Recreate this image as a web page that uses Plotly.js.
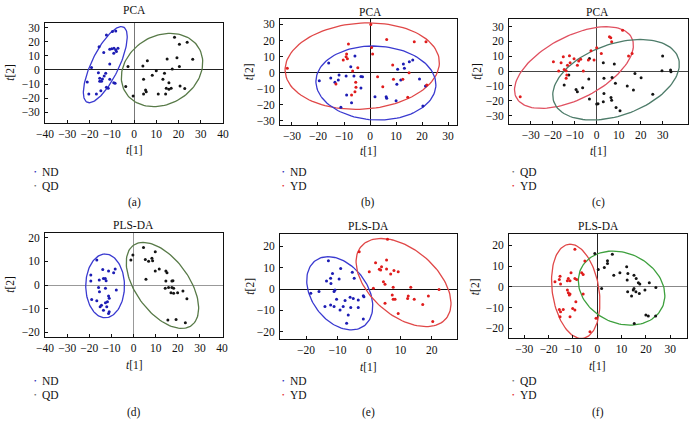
<!DOCTYPE html>
<html><head><meta charset="utf-8">
<script src="https://cdn.plot.ly/plotly-3.0.1.min.js"></script>
<style>html,body{margin:0;padding:0;background:#fff}</style>
</head><body><div id="chart" style="width:693px;height:442px"></div>
<script>
// ---------- DATA ----------
const aND_x=[-8.2,-9.7,-12.4,-10,-9,-8.2,-7.2,-7.9,-9.1,-10.9,-13.6,-15.7,-10.9,-19.1,-16,-12.7,-13.4,-15.4,-14.6,-15.4,-14.2,-10.9,-21,-9.1,-12.4,-11.6,-14.9,-20.3,-16.9,-8.5];
const aND_y=[27.7,27.2,24.8,15.1,15.4,14.2,15.4,13,11.8,14.7,12.3,16.5,4.3,1.7,-1.9,-2.4,-4.3,-5.9,-8,-8,-6.4,-6.6,-8.5,-9,-12.3,-13,-14.7,-17,-17,-9.5];
const aQD_x=[18.2,20.4,23.9,19.3,14.9,26.4,6,4,-2.7,20.4,17.2,10,13.7,8.2,4.3,13,15.7,-3.7,20.7,14.5,16.7,15.7,22.8,5.2,5.5,4.3,10.9,14.2,-0.4];
const aQD_y=[23.2,18.2,19.6,8.7,7.8,7.6,6.6,2.8,2.4,2.4,0.7,-0.5,-2.4,-3.8,-6.6,-6.6,-9,-11.8,-11.3,-13,-13,-13.7,-13.2,-14.2,-15.4,-17,-17,-17,-18.4];

const bYD_x=[0.3,-8.3,6.4,17,21.5,0.6,1,-9,-9.2,-8.7,-10.3,8.7,-4.7,-6.7,15,-31.8,2.9,-5.5,-5.4,4.9,12.6,9,-13.1,-7.1,-5.8,14.5,21.8];
const bYD_y=[30,17.8,20.7,19.3,19.3,15.7,11.6,11.6,9.9,8.7,7.9,4.8,3.1,1,0,2.7,-2.5,-6,-9.1,-8.7,-4.1,-4.1,-7,-13.9,-11.8,-15.3,-7.7];
const bND_x=[-15.9,-5.8,-7.4,-11.9,-9.2,-6.2,-3.5,-2.9,-15.1,-12.2,-19.5,-13.5,-3.5,-9,-11.2,-7.1,1.9,6.2,6.4,10,10.3,10.6,12.8,13.2,15.1,16.4,11.8,19,20.3,21.3];
const bND_y=[6,10.4,3.7,-1.4,-2.1,-2.1,-2.3,-2.5,-3.3,-4.6,-5,-6,-9.5,-13.9,-21.5,-18.6,-14.9,-14.9,-15.9,-17.4,-7.2,2.1,5.4,2.7,6.8,7.9,-4.6,-3.9,-20.7,-8.3];

const cYD_x=[11.8,5.8,6.4,6.8,0,-2.6,2.1,16.1,14.5,-12.4,-15.2,-10.3,-7.3,-8.2,-3.8,-1.2,-19.7,-16.2,-13.3,-8.8,-6.1,-17.3,-13.9,-13.6,-13.9,-14.8,-34.8,-12.1];
const cYD_y=[27.6,23.1,22.5,19.8,15.7,13.7,11.9,11.9,10.1,10.3,9.7,8.3,7.9,6.7,7.4,7.4,6.3,5.6,4,4,0,0,0.2,-2.7,-4.9,1.1,-17.3,5.6];
const cQD_x=[30,29.7,33.6,33.8,3,8,-3.3,-12.7,-14.8,-3.6,3.3,7,8.5,17.4,20.2,13.9,16.7,25.5,-9.4,-8.8,-6.4,3.3,-3.3,6.5,6.8,3,0,0.6,8.8,10.6];
const cQD_y=[10.1,0.2,0.7,-0.4,5.6,4.7,8.5,-2.7,-9.4,-5.4,-4.9,-4.3,-8.3,-1.6,-4.5,-10.1,-12.8,-15.7,-12.4,-13.9,-11.2,-15.1,-18.9,-17.8,-19.6,-20.7,-22.2,-22,-24.5,-26.7];

const dND_x=[-16.6,-13.9,-11.3,-8.3,-9,-19.3,-19.3,-15.5,-13.6,-12.8,-12.4,-15.8,-12.7,-7.8,-15.4,-11.3,-11,-11.8,-12.7,-18.9,-16.6,-14.5,-15.1,-12.1,-13.6,-11.3,-11];
const dND_y=[10.6,6.6,5.9,6.8,5.2,4.2,1.7,2.1,2.8,2.8,1.8,-1,-1.4,-2.1,-2.8,-4.6,-5.6,-7,-7.5,-6.1,-6.6,-8.5,-9.2,-9.2,-10.6,-12,-11.3];
const dQD_x=[4.5,9.8,-0.3,-1.2,5.3,6.8,8.3,8.6,11.6,9.8,14.6,15.1,5.6,14.6,17.3,17.8,14.3,15.8,17.3,16.9,18.1,19.9,22.3,24.1,15.5,19.2,23.4,18.1];
const dQD_y=[15.9,14.1,12.7,10.6,10.8,10.1,11.3,10.3,6.8,5.9,5.9,5.2,2.5,1.7,1.7,1.8,-1.4,-1,-1,-3.2,-3.5,-3.2,-2.5,-5.8,-14.8,-14.5,-15.9,-1.4];

const eND_x=[-12.9,-9,-11.6,-12.2,-13.5,-12.1,-9.5,-5.3,-4.7,-10.8,-11.1,-15.9,-18.5,-6,-5,-3.4,-1.8,-1.6,-10.3,-7.6,-12.2,-11.1,-14,-8.2,-5.8,-3.4,-9.2,-6.6,-1.8,-7.1];
const eND_y=[13.2,9.6,7.3,5,3.7,2.6,4.7,7.8,5,-0.5,-1.2,-1.2,-2,-3.9,-4.4,-5.1,-3.1,-3.6,-4.8,-5.4,-7.5,-8.2,-8.2,-8.2,-8.6,-8.6,-9.8,-12.1,-14,-16];
const eYD_x=[5.9,-3.1,2.1,5.6,4,3.7,3.3,5.6,0.1,7.95,9.3,6.9,4.6,5.1,1.4,7.7,13.3,22.3,7.4,12.5,8.3,7.7,12.3,14.4,18.9,17.1,5.1,9.3,20.3];
const eYD_y=[23.2,17.4,12.3,13.5,10.4,8.9,9.2,9.3,8.1,8.6,8.1,7,3.4,2.2,0.3,0.8,0.8,-0.2,-2.8,-3.3,-4.8,-4.8,-4.4,-4.8,-3.3,-7.2,-6.7,-11.4,-15.2];

const fYD_x=[-9.2,-5.1,-10.8,-6.4,-5.8,-15.3,-15.6,-11.9,-9.2,-8.5,-17.4,-12.3,-11.2,-15.1,-12.3,-11.9,-11.2,-11.5,-5.8,-8.8,-15.6,-14,-15.1,-10.1,-9.2,-11.2,-0.5,-3,-15.3];
const fYD_y=[18.1,12.4,6.7,6.7,5.9,5.1,3.5,4,4,3.5,2.4,2.9,2.9,1.3,-1.6,-2.9,-3.5,-4,-3.5,-7.2,-10.9,-10.9,-12,-10.4,-11.2,-14.4,-15.2,-21.7,-14.4];
const fQD_x=[-1,6.2,4.2,4.2,12.1,2.9,0.4,9.3,6.8,12.6,15.1,16,12.3,16.9,17.5,21.4,24.1,15.1,12.5,14.8,15.9,19.6,17.3,14.1,1.8,20,21,24,15.2];
const fQD_y=[16,15.6,12.5,11.2,9.6,9.3,8.3,6.7,5.6,6.4,5.6,4,3.2,1.9,1.3,1.9,-0.3,-0.8,-2.4,-1.6,-2.4,-1.6,-3.2,-4.5,-0.8,-13.6,-14.1,-14.1,-17.7];

// confidence ellipses: [centre x, centre y, x-offset of top point, half height, half x-extent]
const aEllND=[-12.9,3.75,7.2,27,9.85],  aEllQD=[12.6,0,3.7,26,18.3];
const bEllYD=[-3,4.1,2.5,26.9,29.65],   bEllND=[2.25,-6.4,-1,23,23.05];
const cEllYD=[-10.35,2.35,14.8,27.55,27.05], cEllQD=[8.8,-5.85,11,27.15,28.8];
const dEllND=[-12.85,-0.35,0,13.45,8.75], dEllQD=[13.05,-0.15,-8.7,18.15,16.35];
const eEllND=[-9.3,-2,-3.7,17.1,10.5],  eEllYD=[11,3,-7.15,20.6,15.1];
const fEllYD=[-8.85,-2.2,-2.3,22.7,9.95], fEllQD=[10,-0.65,-3.5,17.85,17.8];

const titles=["PCA","PCA","PCA","PLS-DA","PLS-DA","PLS-DA"];
const panelLabels=["(a)","(b)","(c)","(d)","(e)","(f)"];
const ticksA=[-40,-30,-20,-10,0,10,20,30,40];
const ticks30=[-30,-20,-10,0,10,20,30];
const ticks20=[-20,-10,0,10,20];

// ---------- LAYOUT CONFIG ----------
const W=693,H=442;
const C={ND:"#1c1cb4",QD:"#141414",YD:"#e01c1c"};
const P=[
 {box:[45,223,22.7,122.7],xr:[-40,40],yr:[-37.4,33.5],xt:ticksA,yt:ticks30,
  g:[["ND",aND_x,aND_y],["QD",aQD_x,aQD_y]],el:[[aEllND,"#3a3ad0"],[aEllQD,"#587a48"]],
  zx:"#777",zy:"#222",ytx:10,lx:35,ly:[172,186],tx:134,ty:10,t1y:150,lab:203},
 {box:[280,456.7,19.3,125],xr:[-34.6,33.3],yr:[-32.5,33.2],xt:ticks30,yt:ticks30,
  g:[["ND",bND_x,bND_y],["YD",bYD_x,bYD_y]],el:[[bEllYD,"#e04848"],[bEllND,"#3a3ad0"]],
  zx:"#111",zy:"#111",ytx:249,lx:283,ly:[172,186],tx:370,ty:12,t1y:151,lab:203},
 {box:[509,687.7,19.3,124.3],xr:[-39.9,41.4],yr:[-35.9,34.9],xt:ticks30,yt:ticks30,
  g:[["QD",cQD_x,cQD_y],["YD",cYD_x,cYD_y]],el:[[cEllYD,"#e05060"],[cEllQD,"#4e7c6a"]],
  zx:"#444",zy:"#444",ytx:477,lx:513,ly:[172,186],tx:597,ty:12,t1y:151,lab:203},
 {box:[45,223,232.7,336.7],xr:[-40,40.4],yr:[-21.8,22.1],xt:ticksA,yt:ticks20,
  g:[["ND",dND_x,dND_y],["QD",dQD_x,dQD_y]],el:[[dEllND,"#3a3ad0"],[dEllQD,"#587a48"]],
  zx:"#999",zy:"#999",ytx:10,lx:35,ly:[381,395],tx:133,ty:225,t1y:365,lab:412},
 {box:[280,457.3,234,339.3],xr:[-28.3,28.1],yr:[-23.5,25.7],xt:ticks20,yt:ticks20,
  g:[["ND",eND_x,eND_y],["YD",eYD_x,eYD_y]],el:[[eEllND,"#3a3ad0"],[eEllYD,"#e04848"]],
  zx:null,zy:"#111",ytx:250,lx:283,ly:[381,395],tx:369,ty:226,t1y:367,lab:412},
 {box:[509,686.5,234,338.3],xr:[-36.3,36.7],yr:[-24.8,25.4],xt:ticks30,yt:ticks20,
  g:[["QD",fQD_x,fQD_y],["YD",fYD_x,fYD_y]],el:[[fEllYD,"#e04848"],[fEllQD,"#3ea03e"]],
  zx:"#222",zy:"#888",ytx:475,lx:513,ly:[381,395],tx:598,ty:226,t1y:366,lab:412}
];

const FAM="Liberation Serif, Times New Roman, serif";
const FONT={family:FAM,size:11.5,color:"#111"};
const TFONT={family:FAM,size:11.5,color:"#111"};
function ellipse(p){
  const [cx,cy,dx,h,xe]=p; const w0=Math.sqrt(Math.max(xe*xe-dx*dx,0));
  const xs=[],ys=[];
  for(let i=0;i<=120;i++){const t=2*Math.PI*i/120;
    xs.push(cx+dx*Math.cos(t)+w0*Math.sin(t)); ys.push(cy+h*Math.cos(t));}
  return [xs,ys];
}
const traces=[],annotations=[];
const layout={width:W,height:H,margin:{l:0,r:0,t:0,b:0},showlegend:false,
  paper_bgcolor:"#fff",plot_bgcolor:"#fff",font:FONT,annotations};
const px=x=>x/W, py=y=>1-y/H;
const lab=v=>v<0?"\u2212"+(-v):String(v);
P.forEach((p,i)=>{
  const s=i===0?"":String(i+1);
  const xa="x"+s, ya="y"+s;
  const common={showgrid:false,showline:true,mirror:true,linecolor:"#111",linewidth:1,ticks:"inside",ticklen:3,
    tickcolor:"#111",zerolinewidth:1,tickfont:TFONT,fixedrange:true};
  layout["xaxis"+s]=Object.assign({domain:[px(p.box[0]),px(p.box[1])],range:p.xr,tickvals:p.xt,ticktext:p.xt.map(lab),
    zeroline:!!p.zx,zerolinecolor:p.zx||"#000",anchor:ya,ticklabelstandoff:0},common);
  layout["yaxis"+s]=Object.assign({domain:[py(p.box[3]),py(p.box[2])],range:p.yr,tickvals:p.yt,ticktext:p.yt.map(lab),
    zeroline:true,zerolinecolor:p.zy,anchor:xa,ticklabelstandoff:2},common);
  p.el.forEach(([e,col])=>{const [xs,ys]=ellipse(e);
    traces.push({type:"scatter",mode:"lines",x:xs,y:ys,xaxis:xa,yaxis:ya,line:{color:col,width:1.3},hoverinfo:"skip"});});
  p.g.forEach(([name,xs,ys])=>{
    traces.push({type:"scatter",mode:"markers",name,x:xs,y:ys,xaxis:xa,yaxis:ya,
      marker:{size:3,color:C[name],symbol:"circle"},hoverinfo:"skip"});});
  const cx=(p.box[0]+p.box[1])/2;
  annotations.push({xref:"paper",yref:"paper",x:px(p.tx),y:py(p.ty),text:titles[i],showarrow:false,font:FONT,xanchor:"center",yanchor:"middle"});
  annotations.push({xref:"paper",yref:"paper",x:px(p.ytx),y:py((p.box[2]+p.box[3])/2),text:"<i>t</i>[2]",textangle:-90,showarrow:false,font:TFONT,xanchor:"center",yanchor:"middle"});
  annotations.push({xref:"paper",yref:"paper",x:px(cx),y:py(p.t1y),text:"<i>t</i>[1]",showarrow:false,font:TFONT,xanchor:"center",yanchor:"middle"});
  p.g.forEach(([name],k)=>{
    annotations.push({xref:"paper",yref:"paper",x:px(p.lx),y:py(p.ly[k]),text:"\u2022",showarrow:false,font:{family:FAM,size:7,color:name==="QD"?"#666":C[name]},xanchor:"center",yanchor:"middle"});
    annotations.push({xref:"paper",yref:"paper",x:px(p.lx+5),y:py(p.ly[k]),text:name,showarrow:false,font:FONT,xanchor:"left",yanchor:"middle"});
  });
  annotations.push({xref:"paper",yref:"paper",x:px(cx),y:py(p.lab),text:panelLabels[i],showarrow:false,font:FONT,xanchor:"center",yanchor:"middle"});
});
Plotly.newPlot("chart",traces,layout,{displayModeBar:false,staticPlot:true});
</script></body></html>
